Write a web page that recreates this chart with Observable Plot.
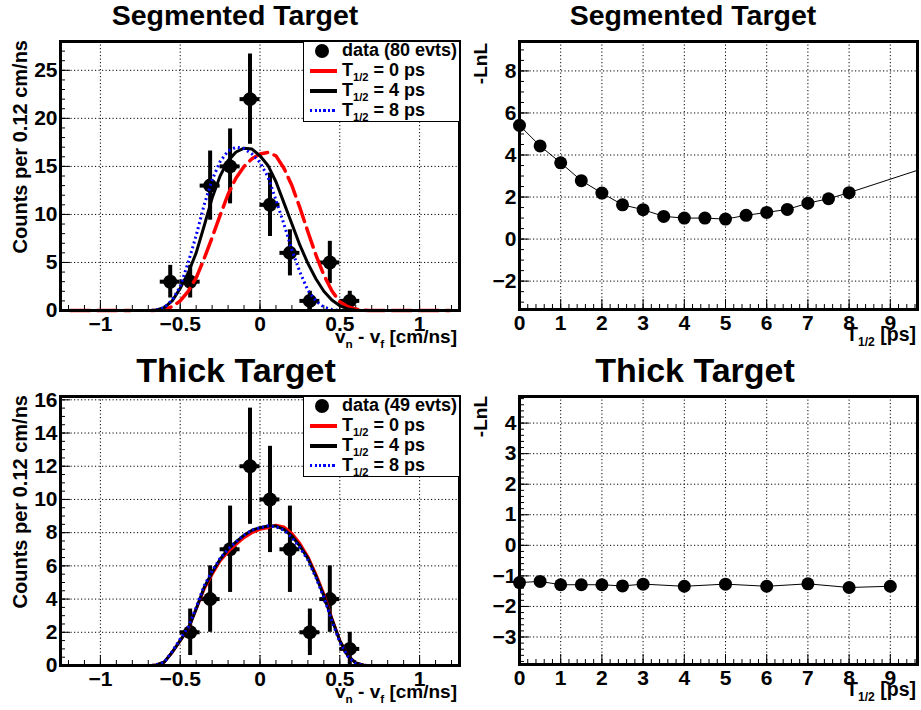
<!DOCTYPE html>
<html>
<head>
<meta charset="utf-8">
<script src="https://cdn.jsdelivr.net/npm/d3@7"></script>
<script src="https://cdn.jsdelivr.net/npm/@observablehq/plot@0.6"></script>
<style>
  html, body { margin: 0; padding: 0; background: #fff; }
  #root { position: relative; width: 921px; height: 710px; overflow: hidden; background: #fff;
          font-family: "Liberation Sans", Arial, Helvetica, sans-serif; font-weight: bold; color: #000; }
  .pad { position: absolute; }
  .pad svg { display: block; overflow: visible; }
  .txt { position: absolute; white-space: nowrap; line-height: 1; }
  sub { font-size: 62%; vertical-align: -0.45em; line-height: 0; }
  .legend { position: absolute; background: #fff; border: 1px solid #000; box-sizing: border-box; }
  .legend .row { position: absolute; white-space: nowrap; line-height: 1; }
  .legend .sym { position: absolute; }
</style>
</head>
<body>
<div id="root"></div>
<script>
// ---------------- data ----------------
// histogram bins (cm/ns), bin width 0.125
const binWidth = 0.125;
const segCenters = [-0.5625, -0.4375, -0.3125, -0.1875, -0.0625, 0.0625, 0.1875, 0.3125, 0.4375, 0.5625];
const segCounts  = [3, 3, 13, 15, 22, 11, 6, 1, 5, 1];
const segErrors  = [1.7, 1.7, 3.6, 3.9, 4.7, 3.3, 2.4, 1.0, 2.2, 1.0];

const thickCenters = [-0.4375, -0.3125, -0.1875, -0.0625, 0.0625, 0.1875, 0.3125, 0.4375, 0.5625];
const thickCounts  = [2, 4, 7, 12, 10, 7, 2, 4, 1];
const thickErrors  = [1.4, 2.0, 2.6, 3.5, 3.2, 2.6, 1.4, 2.0, 1.0];

// fit curves (null = gap in the drawn line)
const segCurveX = [-1.19, -0.81, -0.745, -0.68, -0.65, -0.6, -0.55, -0.5, -0.45, -0.4, -0.35, -0.3, -0.25, -0.2, -0.15, -0.1, -0.05, 0, 0.05, 0.1, 0.15, 0.2, 0.25, 0.3, 0.35, 0.4, 0.45, 0.5, 0.55, 0.6, 0.65, 0.68, 1.19];
const seg0ps = [0, 0, null, 0, 0.03, 0.1, 0.4, 1.0, 2.0, 3.4, 5.4, 7.6, 9.9, 12.1, 13.8, 15.0, 15.8, 16.3, 16.45, 16.1, 14.8, 13.0, 10.7, 8.2, 5.8, 3.7, 2.05, 0.9, 0.4, 0.15, 0.03, 0, 0];
const seg4ps = [null, null, null, 0, 0.05, 0.3, 1.0, 2.3, 3.9, 6.0, 8.8, 11.7, 14.0, 15.6, 16.5, 16.9, 16.8, 16.1, 15.1, 13.4, 11.2, 9.0, 6.8, 4.9, 3.3, 2.0, 1.1, 0.5, 0.15, 0.03, 0, 0, null];
const seg8ps = [0, 0, null, 0, 0.05, 0.3, 1.1, 2.5, 5.0, 7.8, 11.0, 13.6, 15.5, 16.6, 17.0, 16.85, 16.3, 15.4, 13.9, 11.5, 9.0, 6.3, 4.0, 2.1, 1.0, 0.35, 0.1, 0, 0, 0, 0, 0, 0];

const thickCurveX = [-1.19, -0.81, -0.745, -0.68, -0.65, -0.6, -0.55, -0.5, -0.45, -0.4, -0.35, -0.3, -0.25, -0.2, -0.15, -0.1, -0.05, 0, 0.05, 0.1, 0.15, 0.2, 0.25, 0.3, 0.35, 0.4, 0.45, 0.5, 0.55, 0.6, 0.65, 0.68, 0.745, 0.81, 1.19];
const thick0ps = [0, 0, null, 0, 0.03, 0.2, 0.8, 1.5, 2.2, 3.4, 4.6, 5.5, 6.3, 6.85, 7.3, 7.7, 8.0, 8.2, 8.3, 8.45, 8.35, 7.95, 7.35, 6.55, 5.5, 4.3, 2.85, 1.5, 0.6, 0.15, 0.02, 0, null, 0, 0];
const thick4ps = [null, null, null, 0, 0.03, 0.2, 0.8, 1.5, 2.2, 3.4, 4.7, 5.6, 6.4, 7.0, 7.45, 7.85, 8.15, 8.3, 8.4, 8.4, 8.2, 7.8, 7.2, 6.45, 5.4, 4.2, 2.8, 1.5, 0.6, 0.15, 0.02, 0, null, null, null];
const thick8ps = [0, 0, null, 0, 0.03, 0.2, 0.85, 1.6, 2.3, 3.5, 4.8, 5.7, 6.45, 7.0, 7.45, 7.85, 8.15, 8.3, 8.4, 8.35, 8.15, 7.7, 7.1, 6.35, 5.3, 4.1, 2.7, 1.4, 0.55, 0.12, 0.02, 0, null, 0, 0];

// likelihood scans
const segHalfLife = [0, 0.5, 1, 1.5, 2, 2.5, 3, 3.5, 4, 4.5, 5, 5.5, 6, 6.5, 7, 7.5, 8, 10];
const segLnL      = [5.41, 4.43, 3.63, 2.78, 2.19, 1.63, 1.40, 1.08, 1.0, 1.0, 0.95, 1.13, 1.27, 1.41, 1.71, 1.92, 2.21, 3.49];
const thickHalfLife = [0, 0.5, 1, 1.5, 2, 2.5, 3, 4, 5, 6, 7, 8, 9];
const thickLnL      = [-1.22, -1.18, -1.29, -1.29, -1.29, -1.33, -1.27, -1.34, -1.27, -1.34, -1.26, -1.38, -1.34];

// axes
const vTicks = [-1, -0.5, 0, 0.5, 1];
const vLabels = ["\u22121", "\u22120.5", "0", "0.5", "1"];
const segCountTicks = [0, 5, 10, 15, 20, 25];
const segCountLabels = ["0", "5", "10", "15", "20", "25"];
const thickCountTicks = [0, 2, 4, 6, 8, 10, 12, 14, 16];
const thickCountLabels = ["0", "2", "4", "6", "8", "10", "12", "14", "16"];
const tTicks = [0, 1, 2, 3, 4, 5, 6, 7, 8, 9];
const tLabels = ["0", "1", "2", "3", "4", "5", "6", "7", "8", "9"];
const segLnLTicks = [-2, 0, 2, 4, 6, 8];
const segLnLLabels = ["\u22122", "0", "2", "4", "6", "8"];
const thickLnLTicks = [-3, -2, -1, 0, 1, 2, 3, 4];
const thickLnLLabels = ["\u22123", "\u22122", "\u22121", "0", "1", "2", "3", "4"];

// texts
const titles = ["Segmented Target", "Segmented Target", "Thick Target", "Thick Target"];
const segLegend = ["data (80 evts)", "T<sub>1/2</sub> = 0 ps", "T<sub>1/2</sub> = 4 ps", "T<sub>1/2</sub> = 8 ps"];
const thickLegend = ["data (49 evts)", "T<sub>1/2</sub> = 0 ps", "T<sub>1/2</sub> = 4 ps", "T<sub>1/2</sub> = 8 ps"];
const countsTitle = "Counts per 0.12 cm/ns";
const velTitle = "v<sub>n</sub> - v<sub>f</sub> [cm/ns]";
const lnlTitle = "-LnL";
const tTitle = "T<sub>1/2</sub> [ps]";

// ---------------- drawing ----------------
const FONT = '"Liberation Sans", Arial, Helvetica, sans-serif';
const root = document.getElementById("root");
const RED = "#ff0000", BLUE = "#0000ff";

function panel(cfg) {
  const H = 355;
  const plotW = cfg.width - cfg.ml - cfg.mr, plotH = H - 41 - cfg.mb;
  const fmt = (ticks, labels) => d => labels[ticks.indexOf(d)];
  const grid = {stroke: "#000", strokeOpacity: 1, strokeWidth: 1, strokeDasharray: "1.2,2.3"};
  return Plot.plot({
    width: cfg.width, height: H,
    marginLeft: cfg.ml, marginRight: cfg.mr, marginTop: 41, marginBottom: cfg.mb,
    x: {domain: cfg.xDomain},
    y: {domain: cfg.yDomain},
    style: {fontFamily: FONT, fontWeight: "bold", background: "transparent", overflow: "visible", color: "#000"},
    marks: [
      Plot.gridX(cfg.xTicks, grid),
      Plot.gridY(cfg.yTicks, grid),
      Plot.tickX(cfg.xMinor, {x: d => d, insetTop: plotH - 5, stroke: "#000", strokeWidth: 1}),
      Plot.tickX(cfg.xTicks, {x: d => d, insetTop: plotH - 10, stroke: "#000", strokeWidth: 1}),
      Plot.tickY(cfg.yMinor, {y: d => d, insetRight: plotW - 5, stroke: "#000", strokeWidth: 1}),
      Plot.tickY(cfg.yTicks, {y: d => d, insetRight: plotW - 10, stroke: "#000", strokeWidth: 1}),
      Plot.axisX(cfg.xTicks, {tickSize: 0, tickPadding: 6, fontSize: 21, fontWeight: "bold", tickFormat: fmt(cfg.xTicks, cfg.xLabels), label: null}),
      Plot.axisY(cfg.yTicks, {tickSize: 0, tickPadding: 3, fontSize: 21, fontWeight: "bold", tickFormat: fmt(cfg.yTicks, cfg.yLabels), label: null}),
      ...cfg.marks,
      Plot.frame({stroke: "#000", strokeWidth: 3})
    ]
  });
}

function curve(xs, ys) { return xs.map((x, i) => ({x, y: ys[i]})); }

function histMarks(centers, counts, errs, c0, c4, c8, dashed) {
  const pts = centers.map((c, i) => ({x: c, y: counts[i], e: errs[i]}));
  return [
    Plot.ruleX(pts, {x: "x", y1: d => d.y - d.e, y2: d => d.y + d.e, stroke: "#000", strokeWidth: 4}),
    Plot.ruleY(pts, {y: "y", x1: d => d.x - binWidth / 2, x2: d => d.x + binWidth / 2, stroke: "#000", strokeWidth: 4}),
    Plot.dot(pts, {x: "x", y: "y", r: 7, fill: "#000", stroke: "none"}),
    Plot.line(c0, dashed
      ? {x: "x", y: "y", stroke: RED, strokeWidth: 3.5, strokeDasharray: "20,7"}
      : {x: "x", y: "y", stroke: RED, strokeWidth: 3}),
    Plot.line(c4, {x: "x", y: "y", stroke: "#000", strokeWidth: 3}),
    Plot.line(c8, {x: "x", y: "y", stroke: BLUE, strokeWidth: 3, strokeDasharray: "2,3", strokeLinecap: "butt"})
  ];
}

function scanMarks(ts, vs, xmax) {
  const pts = ts.map((t, i) => ({t, v: vs[i]}));
  return [
    Plot.line(pts, {x: "t", y: "v", stroke: "#000", strokeWidth: 1, clip: true}),
    Plot.dot(pts.filter(d => d.t <= xmax), {x: "t", y: "v", r: 6.5, fill: "#000", stroke: "none"})
  ];
}

function addPad(svg, x, y) {
  const d = document.createElement("div");
  d.className = "pad";
  d.style.left = x + "px"; d.style.top = y + "px";
  d.appendChild(svg);
  root.appendChild(d);
}

function addText(html, o) {
  const d = document.createElement("div");
  d.className = "txt";
  d.innerHTML = html;
  d.style.fontSize = o.size + "px";
  const asc = 0.8465 * o.size;
  if (o.rotate) {
    d.style.left = (o.x - asc) + "px";
    d.style.top = o.y + "px";
    d.style.transformOrigin = "0 0";
    d.style.transform = "rotate(-90deg) translateX(-100%)";
  } else {
    d.style.left = o.x + "px";
    d.style.top = (o.y - asc) + "px";
    if (o.align === "center") d.style.transform = "translateX(-50%)";
    if (o.align === "right") d.style.transform = "translateX(-100%)";
  }
  root.appendChild(d);
}

function addLegend(x, y, labels) {
  const box = document.createElement("div");
  box.className = "legend";
  const w = 157, h = 81;
  box.style.left = x + "px"; box.style.top = y + "px";
  box.style.width = w + "px"; box.style.height = h + "px";
  const size = 18;
  labels.forEach((lab, i) => {
    const cy = 9.5 + 20 * i; // row centre, relative to box outer top
    const r = document.createElement("div");
    r.className = "row";
    r.innerHTML = lab;
    r.style.fontSize = size + "px";
    r.style.left = (39 - 1) + "px";
    r.style.top = (cy + 6 - 0.8465 * size - 1) + "px";
    box.appendChild(r);
    const s = document.createElement("div");
    s.className = "sym";
    if (i === 0) {
      s.style.left = (19 - 7 - 1) + "px"; s.style.top = (cy - 7 - 1) + "px";
      s.style.width = "14px"; s.style.height = "14px";
      s.style.borderRadius = "50%"; s.style.background = "#000";
    } else {
      s.style.left = (7 - 1) + "px"; s.style.width = "27px";
      const hh = i === 3 ? 3 : 4;
      s.style.height = hh + "px";
      s.style.top = (cy - hh / 2 - 1) + "px";
      if (i === 1) s.style.background = RED;
      if (i === 2) s.style.background = "#000";
      if (i === 3) s.style.background = "repeating-linear-gradient(90deg, " + BLUE + " 0 2px, transparent 2px 4.5px)";
    }
    box.appendChild(s);
  });
  root.appendChild(box);
}

const vMinor = d3.range(-12, 13).map(i => i / 10);
const tMinor = d3.range(0, 49).map(i => i / 5);

// top-left
addPad(panel({
  width: 460, ml: 60, mr: 1, mb: 45,
  xDomain: [-1.25, 1.25], yDomain: [0, 28],
  xTicks: vTicks, xLabels: vLabels, xMinor: vMinor,
  yTicks: segCountTicks, yLabels: segCountLabels, yMinor: d3.range(0, 29),
  marks: histMarks(segCenters, segCounts, segErrors,
    curve(segCurveX, seg0ps), curve(segCurveX, seg4ps), curve(segCurveX, seg8ps), true)
}), 0, 0);

// top-right
const tMax = 9.66;
addPad(panel({
  width: 461, ml: 59, mr: 4, mb: 46,
  xDomain: [0, tMax], yDomain: [-3.35, 9.4],
  xTicks: tTicks, xLabels: tLabels, xMinor: tMinor,
  yTicks: segLnLTicks, yLabels: segLnLLabels, yMinor: d3.range(-6, 19).map(i => i / 2),
  marks: scanMarks(segHalfLife, segLnL, tMax)
}), 460, 0);

// bottom-left
addPad(panel({
  width: 460, ml: 60, mr: 1, mb: 45,
  xDomain: [-1.25, 1.25], yDomain: [0, 16.2],
  xTicks: vTicks, xLabels: vLabels, xMinor: vMinor,
  yTicks: thickCountTicks, yLabels: thickCountLabels, yMinor: d3.range(0, 33).map(i => i / 2),
  marks: histMarks(thickCenters, thickCounts, thickErrors,
    curve(thickCurveX, thick0ps), curve(thickCurveX, thick4ps), curve(thickCurveX, thick8ps), false)
}), 0, 355);

// bottom-right
addPad(panel({
  width: 461, ml: 59, mr: 4, mb: 46,
  xDomain: [0, tMax], yDomain: [-3.9, 4.87],
  xTicks: tTicks, xLabels: tLabels, xMinor: tMinor,
  yTicks: thickLnLTicks, yLabels: thickLnLLabels, yMinor: d3.range(-19, 25).map(i => i / 5),
  marks: scanMarks(thickHalfLife, thickLnL, tMax)
}), 460, 355);

// titles
addText(titles[0], {x: 235, y: 25, size: 28.5, align: "center"});
addText(titles[1], {x: 693, y: 25, size: 28.5, align: "center"});
addText(titles[2], {x: 236, y: 382, size: 34, align: "center"});
addText(titles[3], {x: 695, y: 382, size: 34, align: "center"});

// axis titles
addText(countsTitle, {x: 27, y: 40, size: 20, rotate: true});
addText(countsTitle, {x: 27, y: 395, size: 20, rotate: true});
addText(lnlTitle, {x: 487, y: 43, size: 19, rotate: true});
addText(lnlTitle, {x: 487, y: 396, size: 19, rotate: true});
addText(velTitle, {x: 457, y: 343, size: 19, align: "right"});
addText(velTitle, {x: 457, y: 698, size: 19, align: "right"});
addText(tTitle, {x: 916, y: 342, size: 19.5, align: "right"});
addText(tTitle, {x: 916, y: 697, size: 19.5, align: "right"});

// legends
addLegend(303, 41, segLegend);
addLegend(303, 396, thickLegend);
</script>
</body>
</html>
